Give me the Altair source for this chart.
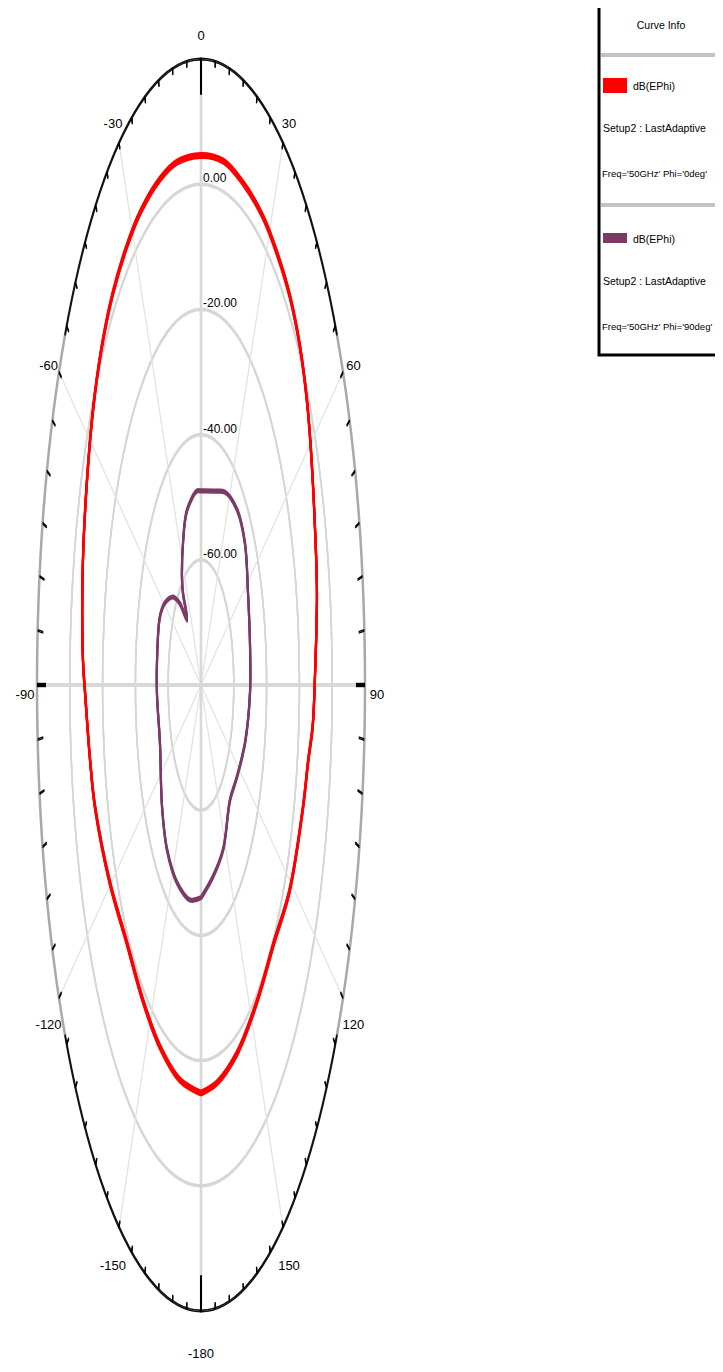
import altair as alt
import pandas as pd
import numpy as np

# ---------------- data ----------------
# curve 1 (red), Phi = 0deg : angle (deg) and dB value
red_ang = [-180, -168.5, -156.6, -144.9, -132, -119.7, -106.8, -100, -91, -86.8, -74.5,
           -61.5, -54.2, -47.3, -40.6, -33, -26.3, -17.2, -9.8, 0, 9.1, 17.7, 26.8, 33.9,
           41.2, 48.2, 54.8, 61.1, 70.1, 78.3, 88.9, 95.6, 100.4, 107.4, 121.4, 132.8,
           145.9, 159.5, 171.3, 180]
red_db = [-14.8, -15.6, -17.0, -18.4, -18.8, -16.1, -12.5, -11.3, -9.3, -7.9, -5.3,
          -2.3, -0.3, 1.3, 2.5, 3.4, 4.1, 4.6, 4.8, 4.6, 4.8, 4.2, 3.8, 3.1,
          2.4, 1.0, -1.0, -3.3, -6.1, -7.8, -10.5, -11.6, -13.5, -14.8, -16.8, -19.4,
          -19.0, -17.2, -15.7, -14.8]

# curve 2 (purple), Phi = 90deg
pur_ang = [-180, -169, -155.2, -141.9, -129.3, -110.4, -92.7, -81.5, -66.4, -59.2, -50.5,
           -45, -39.3, -36.8, -34.6, -25.8, -16.9, -4.4, 0, 15.3, 25.4, 38.1, 49.7, 62.9,
           77.4, 92.5, 109, 123.7, 136, 153, 166.6, 180]
pur_db = [-46.0, -45.0, -45.2, -46.5, -49.3, -53.3, -53.1, -52.9, -52.7, -54.4, -57.9,
          -61.5, -66.6, -61.7, -59.6, -54.8, -50.8, -48.9, -49.0, -47.9, -45.9, -44.4, -44.9, -47.8,
          -49.4, -50.1, -51.6, -53.6, -54.5, -50.4, -48.5, -46.0]

ring_vals = [-60, -40, -20, 0]
ring_labels = ["-60.00", "-40.00", "-20.00", "0.00"]
spoke_angles = [0, 30, 60, 90, 120, 150, 180, 210, 240, 270, 300, 330]
angle_tick_vals = [0, 30, 60, 90, 120, 150, 180, -150, -120, -90, -60, -30]
angle_tick_labels = ["0", "30", "60", "90", "120", "150", "-180", "-150", "-120", "-90", "-60", "-30"]

legend_title = "Curve Info"
legend_names = ["dB(EPhi)", "dB(EPhi)"]
legend_setup = ["Setup2 : LastAdaptive", "Setup2 : LastAdaptive"]
legend_freq = ["Freq='50GHz' Phi='0deg'", "Freq='50GHz' Phi='90deg'"]

RMIN, RMAX = -80, 20

# ---------------- layout / style ----------------
W, H = 707, 1356
CX, CY = 193, 677          # centre of polar plot in view pixels
RX, RY = 164, 626          # stretched radii in pixels
XMIN = -CX / RX
XMAX = XMIN + W / RX
YMAX = CY / RY
YMIN = YMAX - H / RY

RED = "#ff0000"
PURPLE = "#7d3a65"
FONT = "Liberation Sans, Arial, sans-serif"

XS = alt.Scale(domain=[XMIN, XMAX], nice=False, zero=False)
YS = alt.Scale(domain=[YMIN, YMAX], nice=False, zero=False)


def X(f):
    return alt.X(f, type="quantitative", scale=XS, axis=None)


def Y(f):
    return alt.Y(f, type="quantitative", scale=YS, axis=None)


RN = f"(datum.db - ({RMIN})) / ({RMAX - RMIN})"


def polar_line(df, color, width, offsets, detail=None, interp="linear"):
    out = []
    for off in offsets:
        enc = dict(x=X("px"), y=Y("py"), order=alt.Order("ang:Q"))
        if detail:
            enc["detail"] = alt.Detail(detail)
        ch = (alt.Chart(df)
              .mark_line(color=color, strokeWidth=width, interpolate=interp, yOffset=off)
              .transform_calculate(rn=RN)
              .transform_calculate(px="datum.rn * sin(datum.ang * PI / 180)")
              .transform_calculate(py="datum.rn * cos(datum.ang * PI / 180)")
              .encode(**enc))
        out.append(ch)
    return out


layers = []

# rings
grid_ang = np.arange(0, 362, 2)
ring_df = pd.DataFrame([(r, a) for r in ring_vals for a in grid_ang], columns=["db", "ang"])
layers += polar_line(ring_df, "#d6d6d6", 1.5, [-1, 0, 1], detail="db:N")


def spokes(angs, color, width, offsets):
    df = pd.DataFrame({"ang": angs})
    out = []
    for off in offsets:
        out.append(alt.Chart(df)
                   .mark_rule(color=color, strokeWidth=width, yOffset=off, y2Offset=off)
                   .transform_calculate(zero="0")
                   .transform_calculate(ex="sin(datum.ang * PI / 180)")
                   .transform_calculate(ey="cos(datum.ang * PI / 180)")
                   .encode(x=X("zero"), y=Y("zero"), x2=alt.X2("ex"), y2=alt.Y2("ey")))
    return out


layers += spokes([a for a in spoke_angles if a % 90 != 0], "#e3e3e3", 1.3, [0])
layers += spokes([a for a in spoke_angles if a % 90 == 0], "#d8d8d8", 2.2, [-1, 0, 1])

# outer boundary
outer_df = pd.DataFrame({"ang": grid_ang - 180, "db": RMAX})
layers += polar_line(outer_df, "#a9a9a9", 2.5, [0])
top_df = pd.DataFrame({"ang": np.arange(-56, 58, 2), "db": RMAX})
bot_df = pd.DataFrame({"ang": np.arange(124, 238, 2), "db": RMAX})
layers += polar_line(top_df, "#111111", 1.4, [-0.8, 0.8])
layers += polar_line(bot_df, "#111111", 1.4, [-0.8, 0.8])


def ticks(angs, length_expr, width, offsets):
    df = pd.DataFrame({"ang": angs})
    out = []
    for off in offsets:
        out.append(alt.Chart(df)
                   .mark_rule(color="black", strokeWidth=width, yOffset=off, y2Offset=off)
                   .transform_calculate(s="sin(datum.ang * PI / 180)", c="cos(datum.ang * PI / 180)")
                   .transform_calculate(rp=f"sqrt(pow({RX} * datum.s, 2) + pow({RY} * datum.c, 2))")
                   .transform_calculate(ri=length_expr)
                   .transform_calculate(x1="datum.s", y1="datum.c",
                                        x2="datum.ri * datum.s", y2="datum.ri * datum.c")
                   .encode(x=X("x1"), y=Y("y1"), x2=alt.X2("x2"), y2=alt.Y2("y2")))
    return out


layers += ticks([a for a in range(-175, 181, 5) if a % 90 != 0], "1 - 6 / datum.rp", 1.3, [-0.7, 0.7])
layers += ticks([0, 90, 180, -90], "1 - 0.055", 2.0, [-1.2, 0, 1.2])

# curves
layers += polar_line(pd.DataFrame({"ang": red_ang, "db": red_db}), RED, 2.2,
                     [-2.4, -1.2, 0, 1.2, 2.4], interp="catmull-rom")
layers += polar_line(pd.DataFrame({"ang": pur_ang, "db": pur_db}), PURPLE, 2.2,
                     [-1.5, 0, 1.5], interp="catmull-rom")

# ring labels
rl_df = pd.DataFrame({"db": ring_vals, "label": ring_labels})
layers.append(alt.Chart(rl_df)
              .mark_text(align="left", baseline="middle", dx=2, dy=-6, fontSize=12, font=FONT, color="black")
              .transform_calculate(rn=RN)
              .transform_calculate(zero="0")
              .encode(x=X("zero"), y=Y("rn"), text="label:N"))

# angle labels
al_df = pd.DataFrame({"ang": angle_tick_vals, "label": angle_tick_labels})
layers.append(alt.Chart(al_df)
              .mark_text(align="center", baseline="middle", dy=10, fontSize=13, font=FONT, color="black")
              .transform_calculate(px=f"(1 + 12 / {RX}) * sin(datum.ang * PI / 180)")
              .transform_calculate(py=f"(1 + 33 / {RY}) * cos(datum.ang * PI / 180)")
              .encode(x=X("px"), y=Y("py"), text="label:N"))

# ---------------- legend box ----------------
one = pd.DataFrame({"k": [0]})
LX = 591
LFS = 10.5
FFS = 9.5
layers.append(alt.Chart(one).mark_rect(fill="white", stroke="black", strokeWidth=3)
              .encode(x=alt.value(LX), x2=alt.value(760), y=alt.value(-30), y2=alt.value(347)))
for sy in [47, 197]:
    layers.append(alt.Chart(one).mark_rule(color="#c3c3c3", strokeWidth=4)
                  .encode(x=alt.value(LX + 2), x2=alt.value(760), y=alt.value(sy)))
layers.append(alt.Chart(one).mark_text(text=legend_title, align="center", baseline="middle",
                                       fontSize=LFS, font=FONT, color="black")
              .encode(x=alt.value(653), y=alt.value(18)))
swatch = [(RED, 70, 85), (PURPLE, 225, 235)]
base_y = [79, 232]
for i in range(2):
    col, s1, s2 = swatch[i]
    layers.append(alt.Chart(one).mark_rect(color=col)
                  .encode(x=alt.value(595), x2=alt.value(619), y=alt.value(s1), y2=alt.value(s2)))
    layers.append(alt.Chart(one).mark_text(text=legend_names[i], align="left", baseline="middle",
                                           fontSize=LFS, font=FONT, color="black")
                  .encode(x=alt.value(625), y=alt.value(base_y[i])))
    layers.append(alt.Chart(one).mark_text(text=legend_setup[i], align="left", baseline="middle",
                                           fontSize=LFS, font=FONT, color="black")
                  .encode(x=alt.value(595), y=alt.value(base_y[i] + 42)))
    layers.append(alt.Chart(one).mark_text(text=legend_freq[i], align="left", baseline="middle",
                                           fontSize=FFS, font=FONT, color="black")
                  .encode(x=alt.value(594), y=alt.value(base_y[i] + 87)))

chart = (alt.layer(*layers)
         .properties(width=W, height=H, autosize=alt.AutoSizeParams(type="none"), padding=0,
                     background="white")
         .configure_view(stroke=None))

chart.save("out.html", embed_options={"renderer": "svg", "actions": False})
